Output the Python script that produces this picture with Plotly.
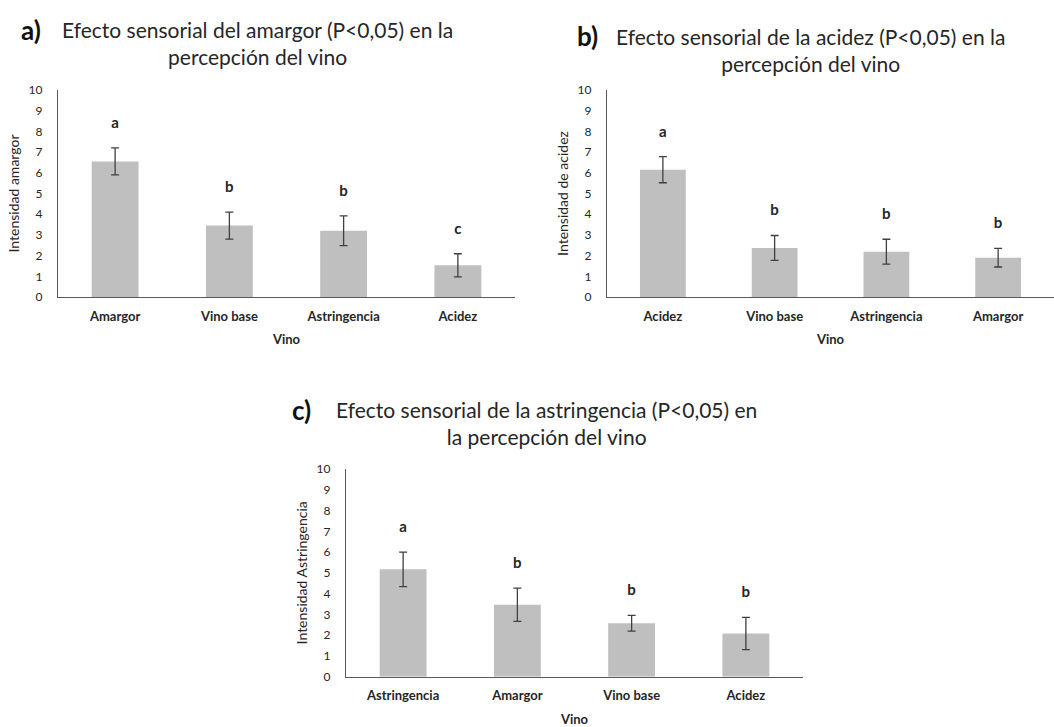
import plotly.graph_objects as go

# ---- data ----
cats_a = ["Amargor", "Vino base", "Astringencia", "Acidez"]
mean_a = [6.55, 3.45, 3.20, 1.53]
err_a = [0.65, 0.65, 0.72, 0.56]
let_a = ["a", "b", "b", "c"]

cats_b = ["Acidez", "Vino base", "Astringencia", "Amargor"]
mean_b = [6.15, 2.37, 2.19, 1.90]
err_b = [0.63, 0.60, 0.60, 0.45]
let_b = ["a", "b", "b", "b"]

cats_c = ["Astringencia", "Amargor", "Vino base", "Acidez"]
mean_c = [5.17, 3.46, 2.57, 2.08]
err_c = [0.83, 0.80, 0.38, 0.78]
let_c = ["a", "b", "b", "b"]

titles = [
    "Efecto sensorial del amargor (P<0,05) en la<br>percepción del vino",
    "Efecto sensorial de la acidez (P<0,05) en la<br>percepción del vino",
    "Efecto sensorial de la astringencia (P<0,05) en<br>la percepción del vino",
]
panel_tags = ["a)", "b)", "c)"]
ytitles = ["Intensidad amargor", "Intensidad de acidez", "Intensidad Astringencia"]
xtitle = "Vino"

W, H = 1054, 727
FONT = "Lato, 'Open Sans', sans-serif"
BAR = "#BFBFBF"
AX = "#595959"
TXT = "#262626"

fig = go.Figure()

panels = [
    (cats_a, mean_a, err_a, let_a, "x", "y"),
    (cats_b, mean_b, err_b, let_b, "x2", "y2"),
    (cats_c, mean_c, err_c, let_c, "x3", "y3"),
]

for cats, means, errs, lets, xa, ya in panels:
    fig.add_trace(go.Bar(
        x=cats, y=means, xaxis=xa, yaxis=ya,
        marker=dict(color=BAR, line=dict(width=0)),
        width=0.41,
        error_y=dict(type="data", array=errs, visible=True,
                     color="#404040", thickness=1.3, width=4),
        showlegend=False,
    ))
    fig.add_trace(go.Scatter(
        x=cats, y=[m + e + 1.15 for m, e in zip(means, errs)],
        xaxis=xa, yaxis=ya, mode="text", text=lets,
        textposition="middle center",
        textfont=dict(family=FONT, size=15, color=TXT, weight="bold"),
        showlegend=False, hoverinfo="skip",
    ))

# domains in pixels -> paper
def px(x):
    return x / W

def py(y):
    return (H - y) / H

doms = [
    ((58, 515), (297, 90)),
    ((607, 1054), (297, 90)),
    ((346, 803), (676.7, 469)),
]

layout = dict(
    width=W, height=H,
    margin=dict(l=0, r=0, t=0, b=0, autoexpand=False),
    paper_bgcolor="white", plot_bgcolor="white",
    font=dict(family=FONT, color=TXT),
)
for i, ((x0, x1), (y0, y1)) in enumerate(doms):
    sfx = "" if i == 0 else str(i + 1)
    layout["xaxis" + sfx] = dict(
        domain=[px(x0), px(x1)], anchor="y" + sfx, automargin=False,
        range=[-0.5, 3.5], showline=True, linecolor=AX, linewidth=1.3,
        showgrid=False, zeroline=False, ticks="",
        ticklabelstandoff=7,
        tickfont=dict(family=FONT, size=13, color=TXT, weight="bold"),
        title=dict(text=xtitle, standoff=12,
                   font=dict(family=FONT, size=13, color=TXT, weight="bold")),
        fixedrange=True,
    )
    layout["yaxis" + sfx] = dict(
        domain=[py(y0), py(y1)], anchor="x" + sfx, automargin=False,
        range=[0, 10], dtick=1, showline=True, linecolor=AX, linewidth=1.3,
        showgrid=False, zeroline=False, ticks="",
        ticklabelstandoff=12,
        tickfont=dict(family=FONT, size=12, color=TXT),
        title=dict(text=ytitles[i], standoff=5,
                   font=dict(family=FONT, size=14, color=TXT)),
        fixedrange=True,
    )
fig.update_layout(**layout)

# titles
title_pos = [(257.5, 43), (810, 50), (546.5, 422.5)]
tag_pos = [(30.5, 30), (587, 36), (301, 410)]
for i in range(3):
    tx, ty = title_pos[i]
    fig.add_annotation(
        x=px(tx), y=py(ty), xref="paper", yref="paper",
        text=titles[i], showarrow=False, align="center",
        xanchor="center", yanchor="middle",
        font=dict(family=FONT, size=21, color=TXT),
    )
    gx, gy = tag_pos[i]
    fig.add_annotation(
        x=px(gx), y=py(gy), xref="paper", yref="paper",
        text=panel_tags[i], showarrow=False,
        xanchor="center", yanchor="middle",
        font=dict(family=FONT, size=26, color="#111111", weight="bold"),
    )

fig.write_html(
    "out.html",
    config={"displayModeBar": False, "staticPlot": False},
    post_script="document.body.style.margin='0';document.body.style.overflow='hidden';",
)
